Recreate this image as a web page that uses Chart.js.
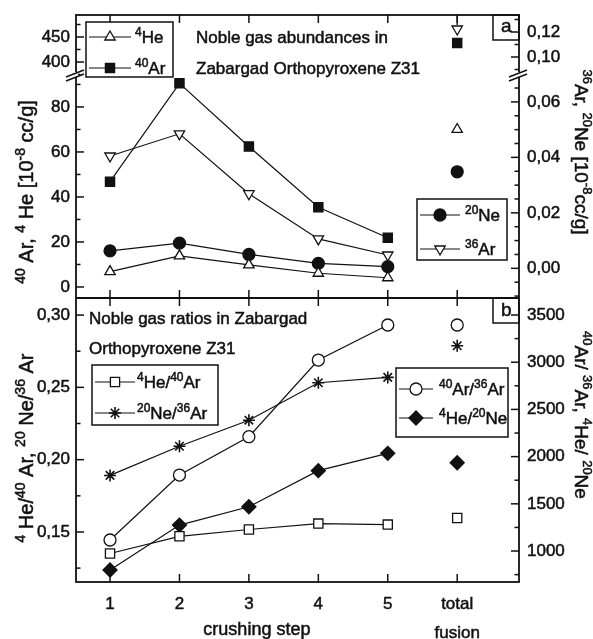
<!DOCTYPE html>
<html>
<head>
<meta charset="utf-8">
<script src="https://cdn.jsdelivr.net/npm/chart.js@4.4.1/dist/chart.umd.min.js"></script>
<style>
  html, body { margin: 0; padding: 0; background: #fff; }
  canvas { display: block; }
</style>
</head>
<body>
<canvas id="chart" width="593" height="639"></canvas>
<script>
// crushing steps 1-5, total fusion sits at position 6
var steps = [1, 2, 3, 4, 5];
var totalX = 6;
var xTicks = [1, 2, 3, 4, 5, 6];
var xLabels = ['1', '2', '3', '4', '5', ['total', 'fusion']];

// panel a: abundances [10^-8 cc/g]
var he4 = [6.8, 13.8, 9.8, 6.1, 4.1];
var he4Total = 70;
var ar40 = [46.8, 90.5, 62.4, 35.4, 21.9];
var ar40Total = 438;
var ne20 = [0.0063, 0.0091, 0.0050, 0.0018, 0.0006];
var ne20Total = 0.0348;
var ar36 = [0.0405, 0.0485, 0.0269, 0.0106, 0.0048];
var ar36Total = 0.1224;
var ar36TotalArrow = 0.1296;

// panel b: ratios
var he4ar40 = [0.1351, 0.1470, 0.1517, 0.1558, 0.1551];
var he4ar40Total = 0.1597;
var ne20ar36 = [0.1891, 0.2093, 0.2273, 0.2532, 0.2569];
var ne20ar36Total = 0.2788;
var ar40ar36 = [1117, 1805, 2211, 3023, 3394];
var ar40ar36Total = 3394;
var he4ne20 = [799, 1275, 1469, 1851, 2035];
var he4ne20Total = 1935;

// tick labels (both y axes of panel a are broken)
var ticksALow = [0, 20, 40, 60, 80];
var ticksAHigh = [400, 450];
var ticksARLow = [0, 0.02, 0.04, 0.06];
var ticksARHigh = [0.10, 0.12];
var ticksB = [0.15, 0.20, 0.25, 0.30];
var ticksBR = [1000, 1500, 2000, 2500, 3000, 3500];

var FONT = '"Liberation Sans", Arial, Helvetica, sans-serif';
var INK = '#111';

function pts(xs, ys) {
  return xs.map(function (x, i) { return { x: x, y: ys[i] }; });
}

function series(label, axis, ys, style, fill, radius, rot) {
  return {
    label: label, yAxisID: axis, data: pts(steps, ys), showLine: true,
    borderColor: INK, borderWidth: 1.2,
    pointStyle: style, pointRadius: radius, pointRotation: rot || 0,
    pointBackgroundColor: fill, pointBorderColor: INK, pointBorderWidth: 1.3
  };
}

function total(axis, v, style, fill, radius, rot) {
  return {
    label: '', yAxisID: axis, data: [{ x: totalX, y: v }], showLine: false,
    pointStyle: style, pointRadius: radius, pointRotation: rot || 0,
    pointBackgroundColor: fill, pointBorderColor: INK, pointBorderWidth: 1.3
  };
}

var datasets = [
  series('^{4}He', 'yA', he4, 'triangle', '#fff', 6),
  total('yA', he4Total, 'triangle', '#fff', 6),
  series('^{40}Ar', 'yA', ar40, 'rect', INK, 6.5),
  total('yAH', ar40Total, 'rect', INK, 6.5),
  series('^{20}Ne', 'yA2', ne20, 'circle', INK, 6),
  total('yA2', ne20Total, 'circle', INK, 6),
  series('^{36}Ar', 'yA2', ar36, 'triangle', '#fff', 6, 180),
  total('yA2H', ar36Total, 'triangle', '#fff', 6, 180),
  total('yA2H', ar36TotalArrow, 'line', INK, 5, 90),
  series('^{4}He/^{40}Ar', 'yB', he4ar40, 'rect', '#fff', 6.5),
  total('yB', he4ar40Total, 'rect', '#fff', 6.5),
  series('^{20}Ne/^{36}Ar', 'yB', ne20ar36, 'star', INK, 6),
  total('yB', ne20ar36Total, 'star', INK, 6),
  series('^{40}Ar/^{36}Ar', 'yB2', ar40ar36, 'circle', '#fff', 6),
  total('yB2', ar40ar36Total, 'circle', '#fff', 6),
  series('^{4}He/^{20}Ne', 'yB2', he4ne20, 'rectRot', INK, 7),
  total('yB2', he4ne20Total, 'rectRot', INK, 7)
];
datasets[11].pointBorderWidth = 1.6;
datasets[12].pointBorderWidth = 1.6;

function comma(d) {
  return function (v) { return v.toFixed(d).replace('.', ','); };
}

function yScale(pos, weight, order, min, max, list, fmt) {
  return {
    type: 'linear', position: pos, stack: pos, stackWeight: weight, weight: order,
    min: min, max: max,
    grid: { display: false, drawTicks: false },
    border: { display: false },
    ticks: { padding: pos === 'left' ? 6 : 8, autoSkip: false, color: INK,
      textStrokeColor: INK, textStrokeWidth: 0.5,
      font: { size: 17 }, callback: fmt },
    afterBuildTicks: function (s) { s.ticks = list.map(function (v) { return { value: v }; }); },
    afterFit: function (s) {
      s.width = pos === 'left' ? 76 : 74;
      s.paddingTop = 0; s.paddingBottom = 0;
    }
  };
}

var minorSteps = { yA: 10, yAH: 25, yA2: 0.005, yA2H: 0.01, yB: 0.025, yB2: 250 };

// superscripts written as ^{..}
function richParts(str) {
  var parts = [], re = /\^\{([^}]*)\}/g, last = 0, m;
  while ((m = re.exec(str))) {
    if (m.index > last) parts.push({ t: str.slice(last, m.index), sup: false });
    parts.push({ t: m[1], sup: true });
    last = re.lastIndex;
  }
  if (last < str.length) parts.push({ t: str.slice(last), sup: false });
  return parts;
}

function drawRich(ctx, str, x, y, size, align) {
  var parts = richParts(str), w = 0;
  function fontOf(p) { return (p.sup ? Math.round(size * 0.7) : size) + 'px ' + FONT; }
  parts.forEach(function (p) { ctx.font = fontOf(p); p.w = ctx.measureText(p.t).width; w += p.w; });
  var cx = align === 'center' ? x - w / 2 : (align === 'right' ? x - w : x);
  var base = y + size * 0.36;
  ctx.save();
  ctx.textAlign = 'left';
  ctx.textBaseline = 'alphabetic';
  ctx.fillStyle = INK;
  ctx.strokeStyle = INK;
  ctx.lineWidth = 0.5;
  parts.forEach(function (p) {
    ctx.font = fontOf(p);
    var ty = p.sup ? base - size * 0.4 : base;
    ctx.fillText(p.t, cx, ty);
    ctx.strokeText(p.t, cx, ty);
    cx += p.w;
  });
  ctx.restore();
}

function drawRotated(ctx, str, x, y, size, angle) {
  ctx.save();
  ctx.translate(x, y);
  ctx.rotate(angle);
  drawRich(ctx, str, 0, 0, size, 'center');
  ctx.restore();
}

function seg(ctx, x1, y1, x2, y2) {
  ctx.beginPath(); ctx.moveTo(x1, y1); ctx.lineTo(x2, y2); ctx.stroke();
}

// legend boxes: position, rows (dataset index and row offset), marker and text offsets
var legendBoxes = [
  { x: 86, y: 22, w: 87, h: 55, rows: [[0, 15], [2, 46]], mark: 24, text: 49 },
  { x: 417, y: 199, w: 90, h: 61, rows: [[4, 16], [6, 50]], mark: 23, text: 48 },
  { x: 92, y: 365, w: 126, h: 60, rows: [[9, 17], [11, 48]], mark: 23, text: 45 },
  { x: 396, y: 368, w: 112, h: 69, rows: [[13, 21], [15, 50]], mark: 20, text: 43 }
];

var decor = {
  id: 'decor',
  afterDraw: function (chart) {
    var ctx = chart.ctx, a = chart.chartArea, sc = chart.scales;
    var mid = sc.yB.top;
    ctx.save();
    ctx.strokeStyle = INK;
    ctx.fillStyle = INK;
    ctx.lineWidth = 1.8;

    // frame and panel divider
    ctx.strokeRect(a.left, a.top, a.right - a.left, a.bottom - a.top);
    seg(ctx, a.left, mid, a.right, mid);

    // y ticks, all pointing inward
    ctx.lineWidth = 1.5;
    Object.keys(minorSteps).forEach(function (id) {
      var s = sc[id], left = s.position === 'left';
      var x0 = left ? a.left : a.right, dir = left ? 1 : -1;
      var majors = s.ticks.map(function (t) { return t.value; });
      majors.forEach(function (v) {
        var py = s.getPixelForValue(v);
        seg(ctx, x0, py, x0 + dir * 8, py);
      });
      var st = minorSteps[id];
      for (var k = Math.ceil(s.min / st); k * st <= s.max; k++) {
        var v = k * st;
        var isMajor = majors.some(function (m) { return Math.abs(m - v) < st / 10; });
        if (!isMajor) {
          var py = s.getPixelForValue(v);
          seg(ctx, x0, py, x0 + dir * 4.5, py);
        }
      }
    });

    // x ticks on top, middle and bottom lines
    xTicks.forEach(function (v) {
      var px = sc.x.getPixelForValue(v);
      seg(ctx, px, a.top, px, a.top + 8);
      seg(ctx, px, mid - 8, px, mid + 8);
      seg(ctx, px, a.bottom - 8, px, a.bottom + 1);
    });

    // axis breaks
    [[a.left, sc.yA.top], [a.right, sc.yA2.top]].forEach(function (b) {
      var bx = b[0], by = b[1];
      ctx.fillStyle = '#fff';
      ctx.fillRect(bx - 2, by - 3, 4, 5);
      ctx.fillStyle = INK;
      seg(ctx, bx - 10, by + 2, bx + 8, by - 5);
      seg(ctx, bx - 10, by + 6, bx + 8, by - 1);
    });

    // panel letters
    ctx.lineWidth = 1.5;
    ctx.strokeRect(a.right - 26, a.top, 26, 25);
    ctx.strokeRect(a.right - 26, mid, 26, 25);
    drawRich(ctx, 'a', a.right - 18, a.top + 10, 19, 'left');
    drawRich(ctx, 'b', a.right - 18, mid + 11, 19, 'left');

    // inset titles
    drawRich(ctx, 'Noble gas abundances in', 196, 37, 17, 'left');
    drawRich(ctx, 'Zabargad Orthopyroxene Z31', 196, 68, 17, 'left');
    drawRich(ctx, 'Noble gas ratios in Zabargad', 89, 318, 17, 'left');
    drawRich(ctx, 'Orthopyroxene Z31', 89, 348, 17, 'left');

    // axis titles
    drawRotated(ctx, '^{40} Ar, ^{4} He [10^{-8} cc/g]', 26, 192, 20, -Math.PI / 2);
    drawRotated(ctx, '^{4} He/^{40} Ar, ^{20} Ne/^{36} Ar', 26, 448, 20, -Math.PI / 2);
    drawRotated(ctx, '^{36}Ar, ^{20}Ne [10^{-8}cc/g]', 582, 152, 19, Math.PI / 2);
    drawRotated(ctx, '^{40}Ar/ ^{36}Ar, ^{4}He/ ^{20}Ne', 582, 415, 19, Math.PI / 2);
    drawRich(ctx, 'crushing step', sc.x.getPixelForValue(3) + 8, 629, 18, 'center');

    // legends
    legendBoxes.forEach(function (box) {
      ctx.fillStyle = '#fff';
      ctx.fillRect(box.x, box.y, box.w, box.h);
      ctx.lineWidth = 1.5;
      ctx.strokeStyle = INK;
      ctx.strokeRect(box.x, box.y, box.w, box.h);
      box.rows.forEach(function (r) {
        var ds = chart.data.datasets[r[0]], ry = box.y + r[1];
        var mx = box.x + box.mark;
        ctx.lineWidth = 1.2;
        ctx.strokeStyle = INK;
        seg(ctx, box.x + 3, ry, mx + (mx - box.x - 3), ry);
        ctx.fillStyle = ds.pointBackgroundColor;
        ctx.lineWidth = ds.pointBorderWidth;
        Chart.helpers.drawPoint(ctx, {
          pointStyle: ds.pointStyle, radius: ds.pointRadius,
          rotation: ds.pointRotation, borderWidth: ds.pointBorderWidth
        }, mx, ry);
        drawRich(ctx, ds.label, box.x + box.text, ry, 17, 'left');
      });
    });
    ctx.restore();
  }
};

Chart.defaults.font.family = FONT;
Chart.defaults.color = INK;

new Chart(document.getElementById('chart'), {
  type: 'scatter',
  data: { datasets: datasets },
  options: {
    responsive: false,
    animation: false,
    devicePixelRatio: 1,
    layout: { padding: { top: 15, left: 0, right: 0, bottom: 0 } },
    plugins: { legend: { display: false }, tooltip: { enabled: false } },
    scales: {
      x: {
        type: 'linear', min: 0.51, max: 6.89,
        grid: { display: false, drawTicks: false },
        border: { display: false },
        ticks: { padding: 8, autoSkip: false, maxRotation: 0, color: INK,
          textStrokeColor: INK, textStrokeWidth: 0.5,
          font: { size: 17, lineHeight: 1.7 },
          callback: function (v) { return xLabels[xTicks.indexOf(v)]; } },
        afterBuildTicks: function (s) { s.ticks = xTicks.map(function (v) { return { value: v }; }); },
        afterFit: function (s) { s.height = 57; s.paddingLeft = 0; s.paddingRight = 0; }
      },
      yB: yScale('left', 284, 1, 0.1154, 0.3118, ticksB, comma(2)),
      yA: yScale('left', 223, 2, -4.9, 94.2, ticksALow, comma(0)),
      yAH: yScale('left', 60, 3, 374, 494, ticksAHigh, comma(0)),
      yA2H: yScale('right', 60, 1, 0.0856, 0.1336, ticksARHigh, comma(2)),
      yA2: yScale('right', 223, 2, -0.0107, 0.0697, ticksARLow, comma(2)),
      yB2: yScale('right', 284, 3, 672, 3680, ticksBR, comma(0))
    }
  },
  plugins: [decor]
});
</script>
</body>
</html>
